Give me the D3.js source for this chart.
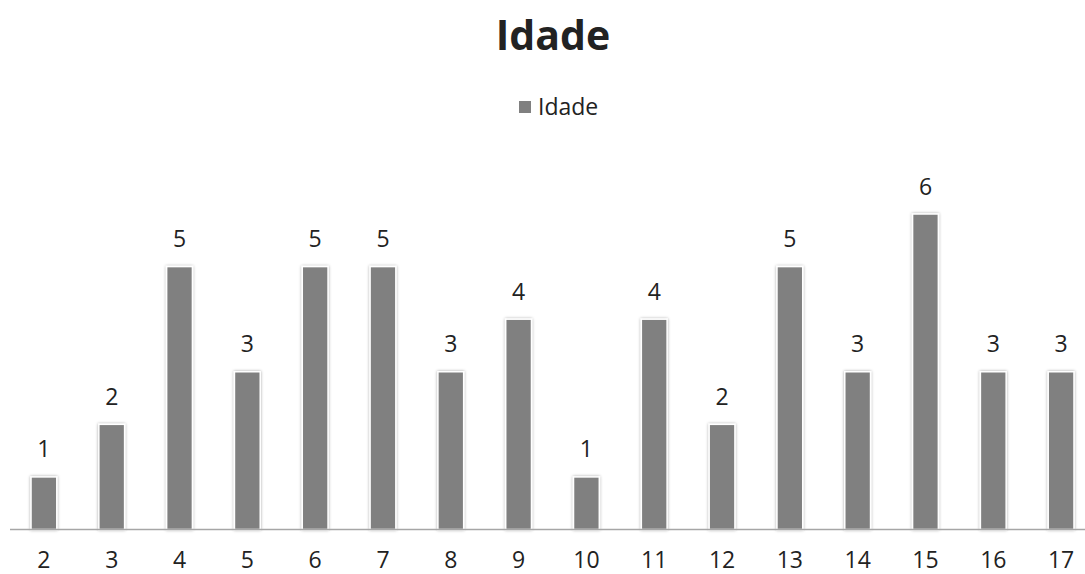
<!DOCTYPE html>
<html>
<head>
<meta charset="utf-8">
<script src="https://d3js.org/d3.v7.min.js"></script>
<style>
  body { margin: 0; background: #fff; }
  text { font-family: "Open Sans", "DejaVu Sans", sans-serif; fill: #222; }
</style>
</head>
<body>
<div id="chart"></div>
<script>
const categories = ["2", "3", "4", "5", "6", "7", "8", "9", "10", "11", "12", "13", "14", "15", "16", "17"];
const values = [1, 2, 5, 3, 5, 5, 3, 4, 1, 4, 2, 5, 3, 6, 3, 3];
const seriesName = "Idade";

const width = 1085, height = 574;
const svg = d3.select("#chart").append("svg")
  .attr("width", width)
  .attr("height", height);

const defs = svg.append("defs");
const f = defs.append("filter").attr("id", "shadow")
  .attr("x", "-30%").attr("y", "-10%").attr("width", "160%").attr("height", "120%");
f.append("feDropShadow")
  .attr("dx", 0).attr("dy", 0).attr("stdDeviation", 1.6)
  .attr("flood-color", "#000").attr("flood-opacity", 0.35);

const x = d3.scaleBand()
  .domain(categories)
  .range([10, 1095])
  .paddingInner(0.62)
  .paddingOuter(0.31);

const y = d3.scaleLinear()
  .domain([0, 6])
  .range([529.5, 214]);

// title
svg.append("text")
  .attr("x", 553).attr("y", 50)
  .attr("text-anchor", "middle")
  .style("font-size", "41px")
  .style("font-weight", "bold")
  .text(seriesName);

// legend
const lg = svg.append("g").attr("transform", "translate(519,101)");
lg.append("rect").attr("width", 12).attr("height", 12).attr("fill", "#808080");
lg.append("text").attr("x", 19).attr("y", 14)
  .style("font-size", "23px")
  .text(seriesName);

// bars
svg.append("g").selectAll("rect")
  .data(values)
  .join("rect")
  .attr("x", (d, i) => x(categories[i]))
  .attr("y", d => y(d))
  .attr("width", x.bandwidth())
  .attr("height", d => y(0) - y(d))
  .attr("fill", "#808080")
  .attr("stroke", "#fff")
  .attr("stroke-width", 1.5)
  .attr("filter", "url(#shadow)");

// axis line
svg.append("line")
  .attr("x1", 10).attr("x2", width)
  .attr("y1", y(0)).attr("y2", y(0))
  .attr("stroke", "#a6a6a6")
  .attr("stroke-width", 1.5);

// value labels
svg.append("g").selectAll("text")
  .data(values)
  .join("text")
  .attr("x", (d, i) => x(categories[i]) + x.bandwidth() / 2)
  .attr("y", d => y(d) - 19.5)
  .attr("text-anchor", "middle")
  .style("font-size", "23px")
  .text(d => d);

// category labels
svg.append("g").selectAll("text")
  .data(categories)
  .join("text")
  .attr("x", d => x(d) + x.bandwidth() / 2)
  .attr("y", 568)
  .attr("text-anchor", "middle")
  .style("font-size", "23px")
  .text(d => d);
</script>
</body>
</html>
